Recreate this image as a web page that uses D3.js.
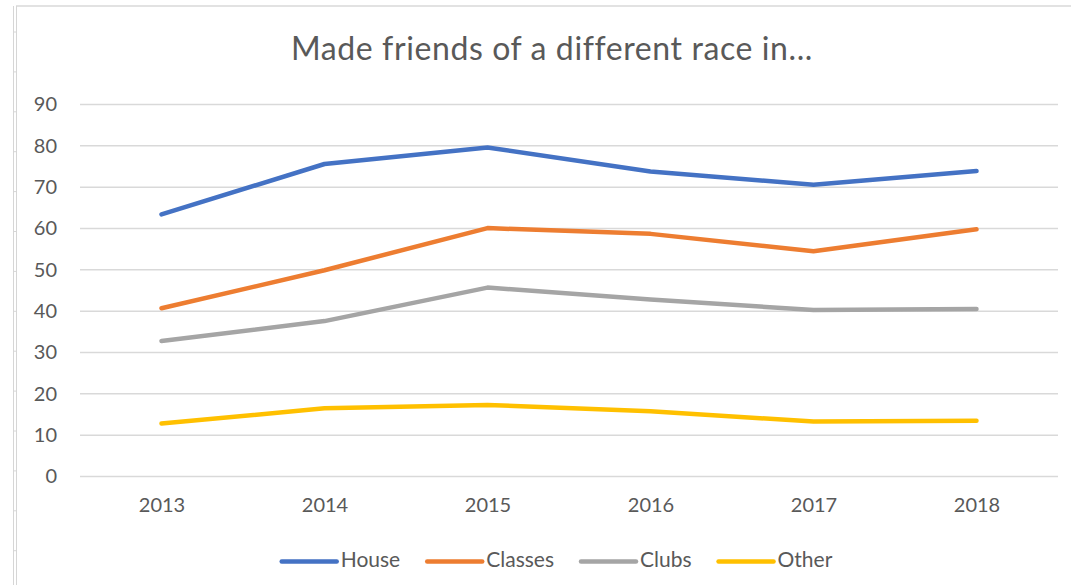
<!DOCTYPE html>
<html>
<head>
<meta charset="utf-8">
<script src="https://cdn.jsdelivr.net/npm/d3@7"></script>
<style>
  body { margin: 0; background: #fff; }
  svg { display: block; font-family: Lato, "Open Sans", sans-serif; }
</style>
</head>
<body>
<div id="chart"></div>
<script>
var years = ["2013", "2014", "2015", "2016", "2017", "2018"];
var seriesNames = ["House", "Classes", "Clubs", "Other"];
var seriesColors = ["#4472C4", "#ED7D31", "#A5A5A5", "#FFC000"];
var house = [63.4, 75.6, 79.6, 73.8, 70.6, 73.9];
var classes = [40.7, 49.9, 60.1, 58.7, 54.5, 59.8];
var clubs = [32.8, 37.6, 45.7, 42.8, 40.3, 40.5];
var other = [12.8, 16.5, 17.3, 15.8, 13.3, 13.5];
var yTicks = [0, 10, 20, 30, 40, 50, 60, 70, 80, 90];

var allSeries = [house, classes, clubs, other];

var width = 1071,
    height = 585,
    margin = {top: 104.5, left: 80, bottom: 108.5, right: 13};

var chartWidth = width - margin.left - margin.right,
    chartHeight = height - margin.top - margin.bottom;

var svg = d3.select("#chart").append("svg")
    .attr("width", width)
    .attr("height", height);

// frame left over from the spreadsheet screenshot
svg.append("line")
    .attr("x1", 16).attr("x2", width).attr("y1", 6).attr("y2", 6)
    .attr("stroke", "#d9d9d9").attr("stroke-width", 1.5);
[13.5, 16.5].forEach(function(x) {
    svg.append("line")
        .attr("x1", x).attr("x2", x).attr("y1", 6).attr("y2", height)
        .attr("stroke", "#d6d6d6").attr("stroke-width", 1);
});
d3.range(14).forEach(function(i) {
    svg.append("line")
        .attr("x1", 13.5).attr("x2", 16.5)
        .attr("y1", 32 + i * 39.9).attr("y2", 32 + i * 39.9)
        .attr("stroke", "#d6d6d6").attr("stroke-width", 1);
});

var chartLayer = svg.append("g")
    .attr("transform", "translate(" + [margin.left, margin.top] + ")");

var x = d3.scalePoint()
    .domain(years)
    .range([0, chartWidth])
    .padding(0.5);

var y = d3.scaleLinear()
    .domain([0, 90])
    .range([chartHeight, 0]);

// gridlines
chartLayer.append("g")
    .selectAll("line")
    .data(yTicks)
    .enter().append("line")
    .attr("x1", 0).attr("x2", chartWidth)
    .attr("y1", function(d) { return y(d); })
    .attr("y2", function(d) { return y(d); })
    .attr("stroke", "#d9d9d9")
    .attr("stroke-width", 1.5);

// y axis labels
var yAxis = chartLayer.append("g")
    .call(d3.axisLeft(y).tickValues(yTicks).tickSize(0).tickPadding(23));
yAxis.select(".domain").remove();
yAxis.selectAll("text")
    .attr("fill", "#595959")
    .style("font-size", "20px")
    .style("font-family", "Lato, 'Open Sans', sans-serif");

// x axis labels
var xAxis = chartLayer.append("g")
    .attr("transform", "translate(0," + chartHeight + ")")
    .call(d3.axisBottom(x).tickSize(0).tickPadding(21));
xAxis.select(".domain").remove();
xAxis.selectAll("text")
    .attr("fill", "#595959")
    .style("font-size", "20px")
    .style("font-family", "Lato, 'Open Sans', sans-serif");

var line = d3.line()
    .x(function(d, i) { return x(years[i]); })
    .y(function(d) { return y(d); });

chartLayer.append("g")
    .selectAll("path")
    .data(allSeries)
    .enter().append("path")
    .attr("d", line)
    .attr("fill", "none")
    .attr("stroke", function(d, i) { return seriesColors[i]; })
    .attr("stroke-width", 4.5)
    .attr("stroke-linecap", "round")
    .attr("stroke-linejoin", "round");

// title
svg.append("text")
    .attr("x", 552)
    .attr("y", 60)
    .attr("text-anchor", "middle")
    .attr("fill", "#595959")
    .style("font-size", "32px")
    .style("letter-spacing", "0.6px")
    .text("Made friends of a different race in...");

// legend
var legend = svg.append("g");
var items = legend.selectAll("g")
    .data(seriesNames)
    .enter().append("g");

items.append("line")
    .attr("x1", 0).attr("x2", 55)
    .attr("y1", 0).attr("y2", 0)
    .attr("stroke", function(d, i) { return seriesColors[i]; })
    .attr("stroke-width", 4.5)
    .attr("stroke-linecap", "round");

items.append("text")
    .attr("x", 59)
    .attr("y", 5)
    .attr("fill", "#595959")
    .style("font-size", "21px")
    .text(function(d) { return d; });

var offset = 0;
var offsets = [];
items.each(function() {
    offsets.push(offset);
    var w = 59 + this.querySelector("text").getComputedTextLength();
    offset += w + 27;
});
var total = offset - 27;
var legendLeft = 557 - total / 2;
items.attr("transform", function(d, i) {
    return "translate(" + (legendLeft + offsets[i]) + ",561.5)";
});
</script>
</body>
</html>
